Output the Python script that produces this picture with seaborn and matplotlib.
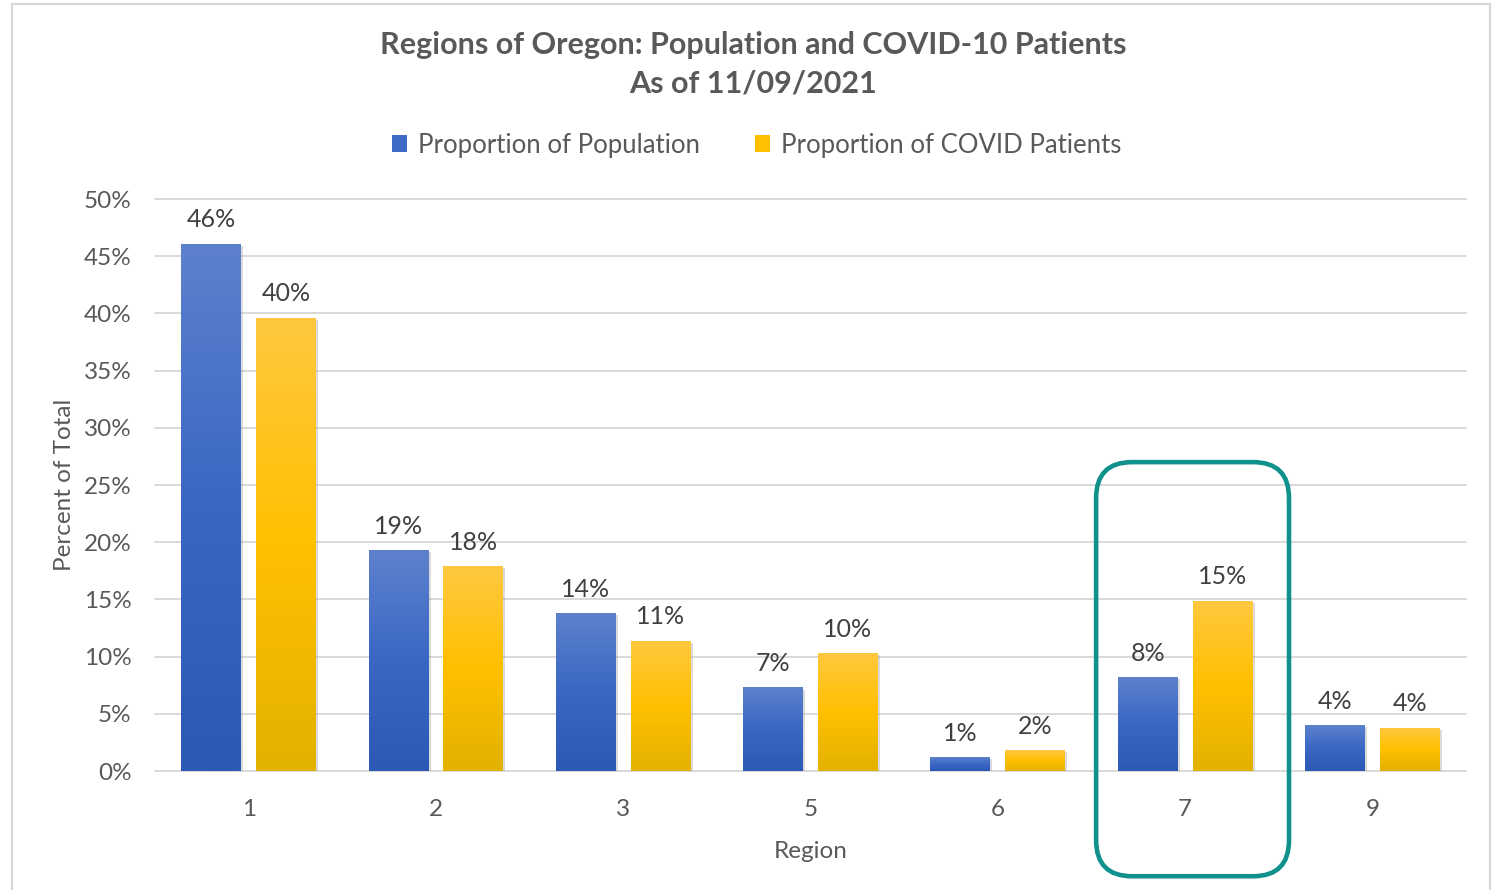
import numpy as np
import pandas as pd
import seaborn as sns
import matplotlib.pyplot as plt
import matplotlib.patheffects as pe
from matplotlib.colors import LinearSegmentedColormap
from matplotlib.patches import FancyBboxPatch, Rectangle
from matplotlib.transforms import IdentityTransform

# values (percent of total)
regions = ["1", "2", "3", "5", "6", "7", "9"]
pop_share = [46.1, 19.3, 13.8, 7.3, 1.2, 8.2, 4.0]
covid_share = [39.6, 17.9, 11.4, 10.3, 1.8, 14.9, 3.8]
series_names = ["Proportion of Population", "Proportion of COVID Patients"]
y_ticks = [0, 5, 10, 15, 20, 25, 30, 35, 40, 45, 50]
highlight = "7"

df = pd.DataFrame({
    "Region": regions * 2,
    "Share": pop_share + covid_share,
    "Series": [series_names[0]] * len(regions) + [series_names[1]] * len(regions),
})

sns.set_theme(style="white")
plt.rcParams["font.family"] = ["Lato", "DejaVu Sans"]
gray = "#595959"

fig = plt.figure(figsize=(14.92, 8.90), dpi=100)
ax = fig.add_axes([155 / 1492, 1 - 771 / 890, (1466 - 155) / 1492, (771 - 199) / 890])

palette = {series_names[0]: "#3F6BC6", series_names[1]: "#FFC000"}
sns.barplot(data=df, x="Region", y="Share", hue="Series", palette=palette,
            saturation=1, width=0.8, gap=0.2, linewidth=0, ax=ax, zorder=3)

# Excel-like vertical gradient inside every bar
cmaps = [
    LinearSegmentedColormap.from_list("blue", ["#2B59B4", "#3A67C4", "#5D81CC"]),
    LinearSegmentedColormap.from_list("gold", ["#E3B100", "#FFC000", "#FFC840"]),
]
grad = np.linspace(0, 1, 256).reshape(-1, 1)
for cont, cmap in zip(ax.containers, cmaps):
    for bar in cont:
        x0, y0 = bar.get_xy()
        w, h = bar.get_width(), bar.get_height()
        bar.set_linewidth(0)
        bar.set_path_effects([pe.SimplePatchShadow(offset=(1.5, -1.5), shadow_rgbFace="#888888", alpha=0.3),
                              pe.Normal()])
        im = ax.imshow(grad, cmap=cmap, extent=[x0, x0 + w, y0, y0 + h], origin="lower",
                       aspect="auto", zorder=3.5)
        im.set_clip_path(bar)
    vals = [b.get_height() for b in cont]
    ax.bar_label(cont, labels=[f"{v:.0f}%" for v in vals], padding=9,
                 fontsize=18, color="#404040", zorder=5)

ax.set_xlim(-0.5, len(regions) - 0.5)
ax.set_ylim(0, 50)
ax.set_yticks(y_ticks)
ax.set_yticklabels([f"{t}%" for t in y_ticks])
ax.yaxis.grid(True, color="#d9d9d9", lw=1.4)
for gl in ax.get_ygridlines():
    gl.set_clip_on(False)
ax.set_axisbelow(True)
sns.despine(ax=ax, left=True, bottom=True)
ax.tick_params(axis="y", length=0, pad=17, labelsize=17.5, labelcolor=gray)
ax.tick_params(axis="x", length=0, pad=20, labelsize=17.5, labelcolor=gray)
ax.set_xlabel("Region", fontsize=17.5, color=gray, labelpad=15)
ax.set_ylabel("Percent of Total", fontsize=17.5, color=gray, labelpad=6)

handles, labels = ax.get_legend_handles_labels()
ax.get_legend().remove()
fig.legend(handles, labels, loc="center", bbox_to_anchor=(0.507, 1 - 145 / 890), ncol=2,
           frameon=False, fontsize=18.5, handlelength=0.6, handleheight=0.6,
           handletextpad=0.4, columnspacing=2.15, labelcolor=gray)

fig.text(0.505, 1 - 45 / 890, "Regions of Oregon: Population and COVID-10 Patients",
         ha="center", va="center", fontsize=22, fontweight="bold", color=gray)
fig.text(0.505, 1 - 84 / 890, "As of 11/09/2021",
         ha="center", va="center", fontsize=22, fontweight="bold", color=gray)

# teal rounded box around region 7
i = regions.index(highlight)
p0 = ax.transData.transform((i + 0.04 - 0.515, -9.2))
p1 = ax.transData.transform((i + 0.04 + 0.515, 27.0))
box = FancyBboxPatch(p0, p1[0] - p0[0], p1[1] - p0[1], boxstyle="round,pad=0,rounding_size=36",
                     transform=IdentityTransform(), fill=False, ec="#11918C", lw=3.3, zorder=10)
fig.add_artist(box)

# outer chart frame
fig.add_artist(Rectangle((12 / 1492, -0.01), (1490 - 12) / 1492, 1.01 - 4 / 890,
                         transform=fig.transFigure, fill=False, ec="#d6d6d6", lw=1.5))

fig.savefig("out.png", dpi=100)
